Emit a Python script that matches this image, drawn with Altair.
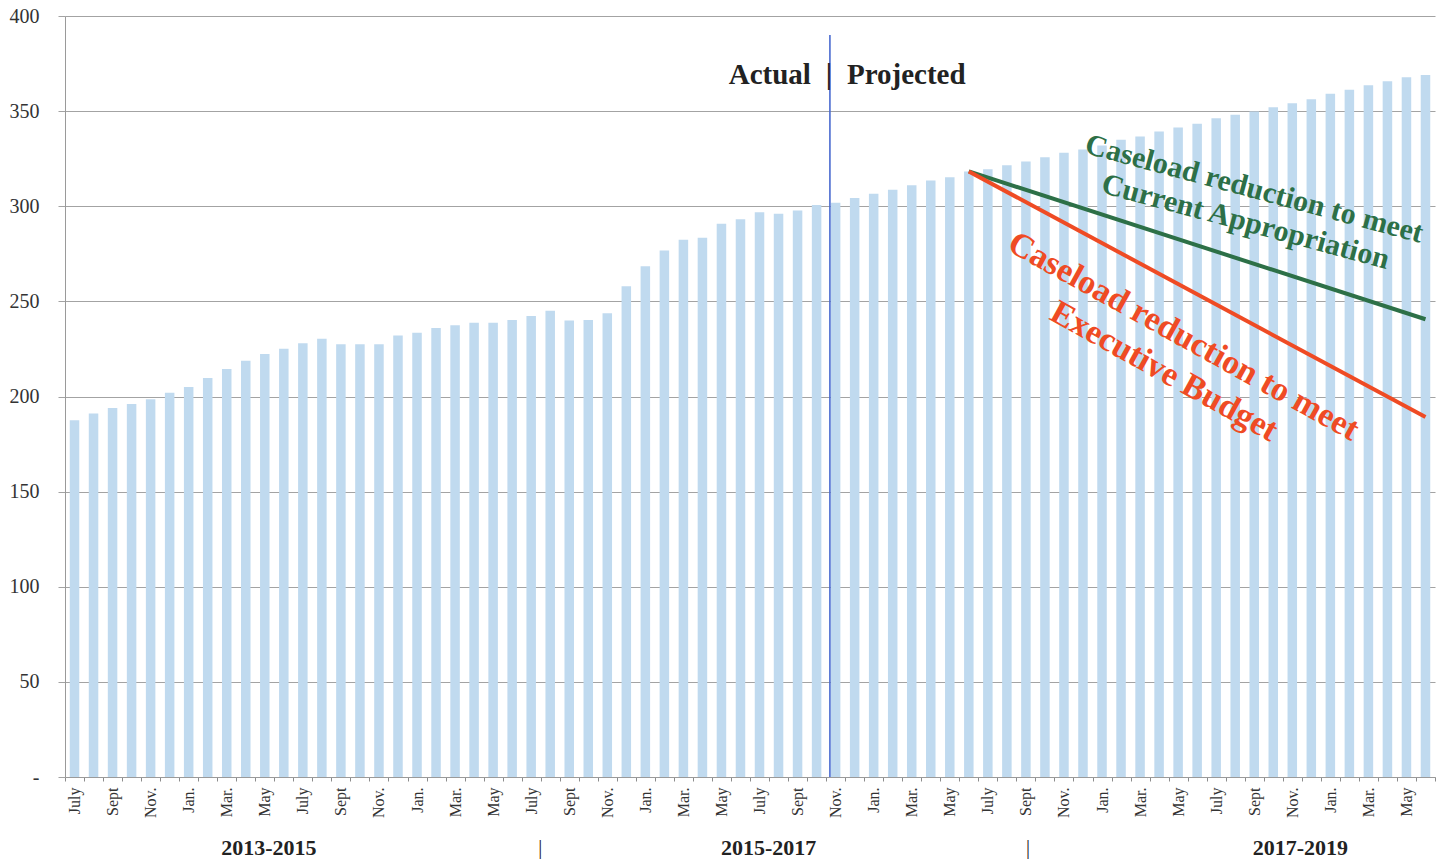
import json

import altair as alt
import pandas as pd

# Monthly caseload, July 2013 through June 2019 (one bar per month)
CASELOAD = [
    187.5, 191.0, 194.0, 196.0, 198.6, 202.0, 205.0, 209.7, 214.4, 218.8, 222.3, 225.1,
    228.0, 230.4, 227.4, 227.4, 227.4, 232.0, 233.5, 236.0, 237.5, 238.8, 238.8, 240.2,
    242.3, 245.1, 240.0, 240.2, 243.7, 257.9, 268.4, 276.8, 282.4, 283.5, 290.8, 293.2,
    296.9, 296.0, 297.8, 300.7, 301.8, 304.4, 306.6, 308.7, 311.1, 313.6, 315.3, 318.3,
    319.5, 321.6, 323.5, 325.8, 328.1, 329.8, 331.9, 334.9, 336.7, 339.3, 341.4, 343.3,
    346.3, 348.1, 349.8, 352.1, 354.2, 356.2, 359.1, 361.3, 363.6, 365.7, 367.8, 369.0,
]

# Tick labels repeat every fiscal year, labelling every other month from July
MONTH_TICKS = ["July", "", "Sept", "", "Nov.", "", "Jan.", "", "Mar.", "", "May", ""]
TICK_LABELS = [MONTH_TICKS[i % 12] for i in range(len(CASELOAD))]

BIENNIA = ["2013-2015", "2015-2017", "2017-2019"]
BIENNIUM_MONTH = [10, 37, 64]
BIENNIUM_DX = [4, -10, 8]
SEPARATOR_MONTH = [24, 50]
SEPARATOR_DX = [9, 2]

SPLIT_MONTH = 40          # Nov. 2016: first projected month
SPLIT_TOP = 390
HEADER_LEVEL = 364

# Reduction paths from the June 2017 caseload to June 2019
PATH_MONTHS = [47, 71]
APPROPRIATION_PATH = [318.3, 240.6]
EXECUTIVE_PATH = [318.3, 189.2]

APPROPRIATION_NOTE = ["Caseload reduction to meet", "Current Appropriation"]
EXECUTIVE_NOTE = ["Caseload reduction to meet", "Executive Budget"]

SERIF = "Liberation Serif"
BAR_BLUE = "#c0daef"
GREEN = "#2d7047"
RED = "#ef4b24"
GRID = "#a3a3a3"
INK = "#222222"

bars_df = pd.DataFrame({"n": list(range(len(CASELOAD))), "value": CASELOAD})

x_axis = alt.Axis(
    title=None,
    labelExpr=json.dumps(TICK_LABELS) + "[datum.value]",
    labelAngle=270,
    labelAlign="right",
    labelBaseline="middle",
    labelFont=SERIF,
    labelFontSize=16,
    labelColor="#333333",
    labelPadding=6,
    tickBand="extent",
    tickSize=4,
    tickColor="#8c8c8c",
    domainColor="#9a9a9a",
    grid=False,
)
y_axis = alt.Axis(
    title=None,
    values=list(range(0, 401, 50)),
    labelExpr="datum.value == 0 ? '-\u2002' : datum.label",
    labelFont=SERIF,
    labelFontSize=20,
    labelColor="#333333",
    labelPadding=19,
    tickSize=7,
    tickColor=GRID,
    domainColor="#9a9a9a",
    gridColor=GRID,
    gridWidth=1,
)
x_scale = alt.Scale(domain=list(range(len(CASELOAD))), paddingInner=0, paddingOuter=0)
y_scale = alt.Scale(domain=[0, 400], nice=False)


def X(**kw):
    return alt.X("n:O", axis=x_axis, scale=x_scale, **kw)


def Y(field="value:Q"):
    return alt.Y(field, axis=y_axis, scale=y_scale)


bars = alt.Chart(bars_df).mark_bar(
    color=BAR_BLUE, width=alt.RelativeBandSize(0.5)
).encode(x=X(), y=Y())

split_df = pd.DataFrame({"n": [SPLIT_MONTH], "top": [SPLIT_TOP], "bottom": [0]})
split_rule = alt.Chart(split_df).mark_rule(color="#4a6bd0", strokeWidth=1.6).encode(
    x=X(bandPosition=0.2), y=Y("top:Q"), y2="bottom:Q"
)

head_df = pd.DataFrame({"n": [SPLIT_MONTH], "y": [HEADER_LEVEL]})
head_style = dict(font=SERIF, fontSize=29, fontWeight="bold", fill=INK, baseline="alphabetic")
actual = alt.Chart(head_df).mark_text(text="Actual", align="right", dx=-19, **head_style).encode(
    x=X(bandPosition=0.2), y=Y("y:Q"))
projected = alt.Chart(head_df).mark_text(text="Projected", align="left", dx=17, **head_style).encode(
    x=X(bandPosition=0.2), y=Y("y:Q"))
bar_sep = alt.Chart(head_df).mark_text(text="|", align="center", dx=-1, **head_style).encode(
    x=X(bandPosition=0.2), y=Y("y:Q"))

approp_df = pd.DataFrame({"n": PATH_MONTHS, "value": APPROPRIATION_PATH})
exec_df = pd.DataFrame({"n": PATH_MONTHS, "value": EXECUTIVE_PATH})
approp_line = alt.Chart(approp_df).mark_line(color=GREEN, strokeWidth=4).encode(x=X(), y=Y())
exec_line = alt.Chart(exec_df).mark_line(color=RED, strokeWidth=4).encode(x=X(), y=Y())

approp_text = alt.Chart(pd.DataFrame({"n": [62], "y": [309]})).mark_text(
    text=APPROPRIATION_NOTE, angle=15, font=SERIF, fontSize=30, fontWeight="bold",
    fill=GREEN, align="center", baseline="middle", lineHeight=34,
).encode(x=X(), y=Y("y:Q"))
exec_text = alt.Chart(pd.DataFrame({"n": [58], "y": [233]})).mark_text(
    text=EXECUTIVE_NOTE, angle=29, font=SERIF, fontSize=34, fontWeight="bold",
    fill=RED, align="center", baseline="middle", lineHeight=40, dx=6,
).encode(x=X(), y=Y("y:Q"))

bottom_layers = []
for label, month, dx in zip(BIENNIA, BIENNIUM_MONTH, BIENNIUM_DX):
    bottom_layers.append(
        alt.Chart(pd.DataFrame({"n": [month]})).mark_text(
            text=label, font=SERIF, fontSize=22, fontWeight="bold", fill=INK,
            align="center", baseline="alphabetic", dx=dx,
        ).encode(x=X(), y=alt.value(839))
    )
for month, dx in zip(SEPARATOR_MONTH, SEPARATOR_DX):
    bottom_layers.append(
        alt.Chart(pd.DataFrame({"n": [month]})).mark_text(
            text="|", font=SERIF, fontSize=20, fill=INK,
            align="center", baseline="alphabetic", dx=dx,
        ).encode(x=X(), y=alt.value(838))
    )

chart = alt.layer(
    bars, split_rule, approp_line, exec_line, approp_text, exec_text,
    actual, projected, bar_sep, *bottom_layers,
).properties(
    width=1370,
    height=761,
    autosize=alt.AutoSizeParams(type="none"),
    padding={"left": 65, "top": 16, "right": 6, "bottom": 83},
    background="white",
).configure_view(stroke=None)

chart.save("out.html", embed_options={"renderer": "svg", "actions": False})
